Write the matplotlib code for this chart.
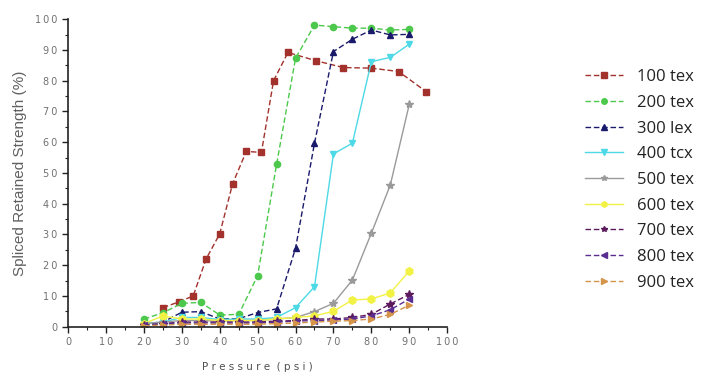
import matplotlib
matplotlib.use("Agg")
import matplotlib.pyplot as plt
from matplotlib.ticker import MultipleLocator, FuncFormatter

# ---- data ----
x100 = [25, 29.3, 33, 36.4, 40, 43.4, 47, 51, 54.2, 58, 65.4, 72.6, 80, 87.2, 94.4]
y100 = [6.2, 8.1, 10, 22, 30.2, 46.5, 57, 56.7, 80, 89.2, 86.5, 84.3, 84.1, 83, 76.5]

pressure = [20, 25, 30, 35, 40, 45, 50, 55, 60, 65, 70, 75, 80, 85, 90]
y200 = [2.5, 4.5, 7.6, 7.9, 3.8, 4.0, 16.6, 52.8, 87.3, 98.1, 97.6, 97.1, 97.1, 96.5, 96.7]
y300 = [1.0, 1.5, 4.7, 4.9, 2.5, 2.6, 4.6, 5.8, 25.5, 59.7, 89.5, 93.5, 96.5, 94.9, 95.1]
y400 = [1.0, 1.5, 3.0, 3.0, 2.3, 2.5, 2.5, 3.0, 6.2, 13.0, 56.2, 59.7, 86.2, 87.6, 91.9]
y500 = [1.0, 1.5, 2.0, 2.0, 1.8, 2.0, 2.0, 2.5, 3.0, 4.9, 7.6, 15.2, 30.4, 46.1, 72.3]
y600 = [1.0, 3.5, 2.5, 2.5, 2.0, 2.0, 2.0, 2.5, 3.0, 3.5, 5.0, 8.7, 9.0, 11.0, 18.1]
y700 = [0.5, 1.0, 1.5, 1.5, 1.5, 1.5, 1.5, 1.8, 2.0, 2.5, 2.5, 3.0, 4.0, 7.4, 10.5]
y800 = [0.5, 1.0, 1.2, 1.2, 1.2, 1.2, 1.2, 1.5, 1.8, 2.0, 2.2, 2.5, 3.5, 5.5, 9.0]
y900 = [0.3, 0.5, 0.8, 0.8, 0.8, 0.8, 0.8, 1.0, 1.2, 1.5, 1.8, 2.0, 2.5, 4.0, 7.0]

labels = ["100 tex", "200 tex", "300 lex", "400 tcx", "500 tex",
          "600 tex", "700 tex", "800 tex", "900 tex"]

series = [
    (x100, y100, '#a3312c', 's', (0, (4, 2)), 4),
    (pressure, y200, '#4cc94c', 'o', (0, (4, 2)), 4.5),
    (pressure, y300, '#1a1a6b', '^', (0, (4, 2)), 5),
    (pressure, y400, '#4dd9e6', 'v', '-', 5),
    (pressure, y500, '#9a9a9a', '*', '-', 6),
    (pressure, y600, '#f2f244', 'h', '-', 5.5),
    (pressure, y700, '#5c1a5c', '*', (0, (4, 2)), 6),
    (pressure, y800, '#5a2d91', '<', (0, (4, 2)), 5),
    (pressure, y900, '#d4944a', '>', (0, (4, 2)), 5),
]

fig = plt.figure(figsize=(7.02, 3.74), dpi=100)
ax = fig.add_axes([0.097, 0.1265, 0.540, 0.822])

for (xs, ys, c, m, ls, ms), lab in zip(series, labels):
    ax.plot(xs, ys, color=c, marker=m, linestyle=ls, linewidth=1.0,
            markersize=ms, label=lab)

ax.set_xlim(0, 100)
ax.set_ylim(0, 100)
ax.xaxis.set_major_locator(MultipleLocator(10))
ax.xaxis.set_minor_locator(MultipleLocator(5))
ax.yaxis.set_major_locator(MultipleLocator(10))
ax.yaxis.set_minor_locator(MultipleLocator(5))
spaced = FuncFormatter(lambda v, p: '\u2009'.join(str(int(round(v)))))
ax.xaxis.set_major_formatter(spaced)
ax.yaxis.set_major_formatter(spaced)
ax.tick_params(which='major', direction='out', length=4, width=1, labelsize=7,
               labelcolor='#707070', color='#222222')
ax.tick_params(which='minor', direction='out', length=2.5, width=0.8, color='#222222')
for s in ['top', 'right']:
    ax.spines[s].set_visible(False)
for s in ['left', 'bottom']:
    ax.spines[s].set_linewidth(1.2)
    ax.spines[s].set_color('#222222')

ax.set_ylabel("Spliced Retained Strength (%)", fontsize=11, color='#606060',
              labelpad=6, family='Liberation Sans')
ax.set_xlabel("P r e s s u r e  ( p s i )", fontsize=7.5, color='#505050', labelpad=11)

leg = fig.legend(loc='upper left', bbox_to_anchor=(0.812, 0.855), frameon=False,
                 labelspacing=0.58, handlelength=2.3, handletextpad=0.8,
                 prop={'family': 'Open Sans', 'size': 12})
for t in leg.get_texts():
    t.set_color('#222222')
for h in leg.legend_handles:
    h.set_markersize(4)

fig.savefig("out.png", dpi=100)
